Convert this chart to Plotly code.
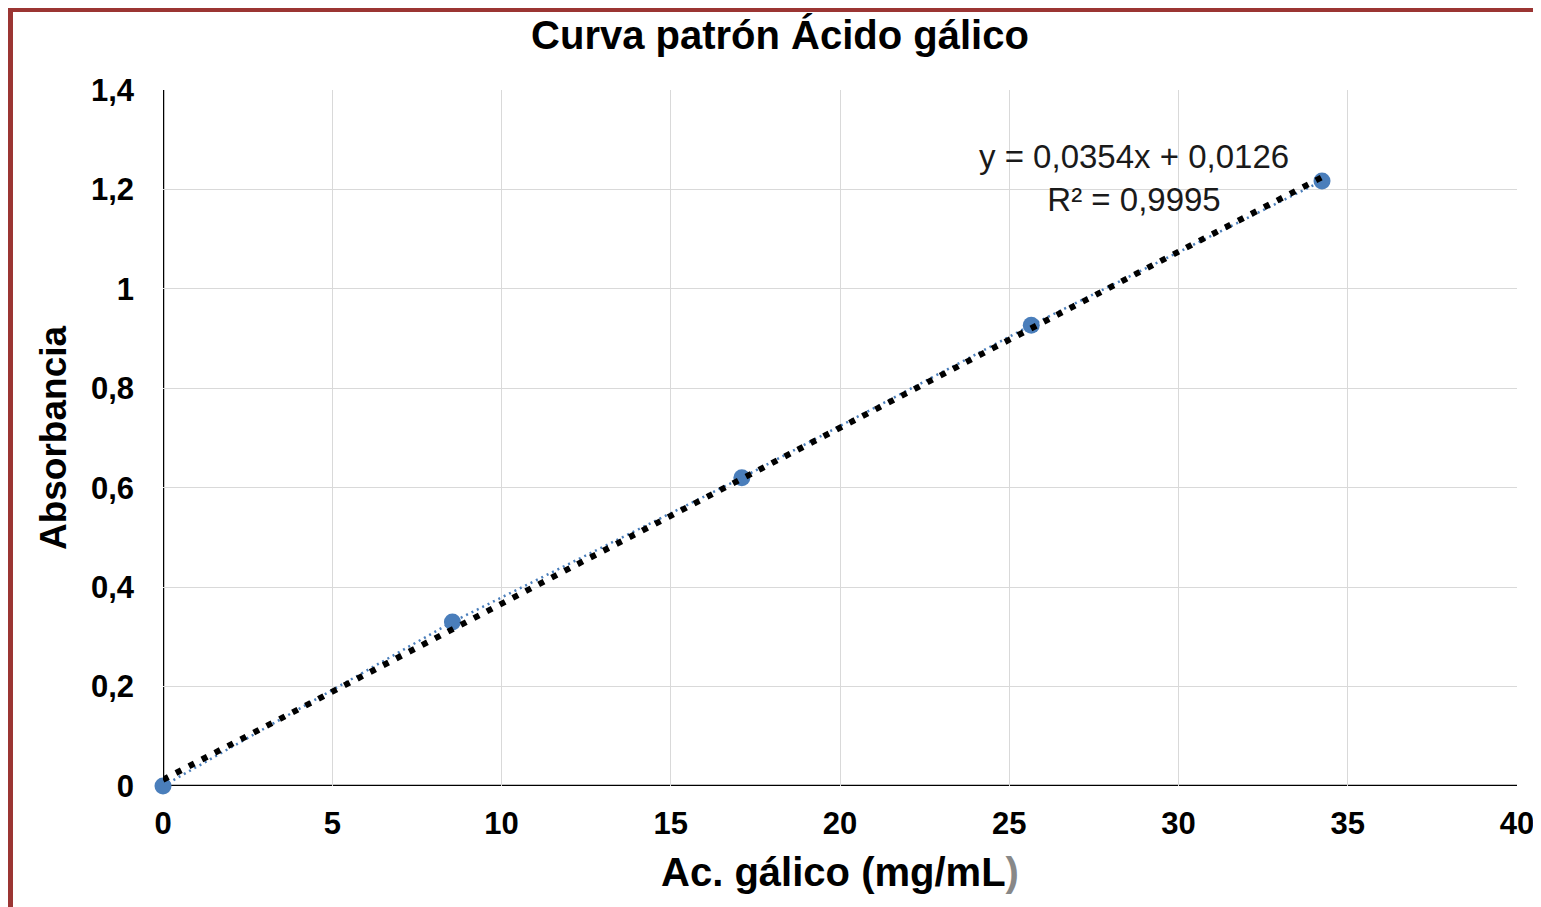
import plotly.graph_objects as go

# Data
conc = [0, 8.55, 17.1, 25.65, 34.24]
absorb = [0.0, 0.330, 0.620, 0.927, 1.217]
slope = 0.0354
intercept = 0.0126
x_ticks = [0, 5, 10, 15, 20, 25, 30, 35, 40]
y_ticks = [0, 0.2, 0.4, 0.6, 0.8, 1.0, 1.2, 1.4]
y_tick_text = ["0", "0,2", "0,4", "0,6", "0,8", "1", "1,2", "1,4"]

trend_x = [0, max(conc)]
trend_y = [slope * v + intercept for v in trend_x]

FONT = "Liberation Sans, Arial, sans-serif"
BLUE = "#4A7EBB"
OFF = 8  # page body margin offset

W, H = 1541 - OFF, 907 - OFF
L, R_EDGE, T, B_EDGE = 163 - OFF, 1517 - OFF, 90 - OFF, 786 - OFF
PW, PH = R_EDGE - L, B_EDGE - T


def px_x(p):
    return (p - OFF - L) / PW


def px_y(p):
    return (B_EDGE - (p - OFF)) / PH


fig = go.Figure()

fig.add_trace(go.Scatter(
    x=conc, y=absorb, mode="lines",
    line=dict(color=BLUE, width=2.5, dash="2px,4px"),
    hoverinfo="skip", showlegend=False, cliponaxis=False,
))
fig.add_trace(go.Scatter(
    x=conc, y=absorb, mode="markers",
    marker=dict(color=BLUE, size=17),
    showlegend=False, cliponaxis=False,
))
fig.add_trace(go.Scatter(
    x=trend_x, y=trend_y, mode="lines",
    line=dict(color="black", width=6, dash="6px,8.6px"),
    showlegend=False, cliponaxis=False,
))

fig.update_layout(
    width=W, height=H,
    margin=dict(l=L, r=W - R_EDGE, t=T, b=H - B_EDGE, autoexpand=False),
    paper_bgcolor="white", plot_bgcolor="white",
    font=dict(family=FONT, color="black"),
    title=dict(
        text="<b>Curva patrón Ácido gálico</b>",
        x=px_x(780), xref="paper", xanchor="center",
        y=1 - (35 - OFF) / H, yref="container", yanchor="middle",
        font=dict(size=40, family=FONT, color="black"),
    ),
    xaxis=dict(
        range=[0, 40], tickvals=x_ticks, ticks="",
        showgrid=True, gridcolor="#D9D9D9", gridwidth=1.3,
        zeroline=False, showline=False,
        tickfont=dict(size=31, family=FONT, color="black", weight="bold"),
        ticklabelstandoff=16,
        title=dict(
            text="<b>Ac. gálico (mg/mL<span style='color:#888888'>)</span></b>",
            font=dict(size=40, family=FONT, color="black"), standoff=17,
        ),
        fixedrange=True,
    ),
    yaxis=dict(
        range=[0, 1.4], tickvals=y_ticks, ticktext=y_tick_text, ticks="",
        showgrid=True, gridcolor="#D9D9D9", gridwidth=1.3,
        zeroline=False, showline=False,
        tickfont=dict(size=31, family=FONT, color="black", weight="bold"),
        ticklabelstandoff=28,
        title=dict(
            text="<b>Absorbancia</b>",
            font=dict(size=37, family=FONT, color="black"), standoff=12,
        ),
        fixedrange=True,
    ),
)

# black axis lines at x=0 and y=0
fig.add_shape(type="line", xref="x", yref="y", x0=0, x1=40, y0=0, y1=0,
              line=dict(color="black", width=2.5), layer="below")
fig.add_shape(type="line", xref="x", yref="y", x0=0, x1=0, y0=0, y1=1.4,
              line=dict(color="black", width=2.5), layer="below")

# red frame (left and top)
fig.add_shape(type="line", xref="paper", yref="paper",
              x0=px_x(10.5), x1=px_x(10.5),
              y0=px_y(912), y1=px_y(7),
              line=dict(color="#9B3533", width=5))
fig.add_shape(type="line", xref="paper", yref="paper",
              x0=px_x(8), x1=px_x(1545),
              y0=px_y(9.5), y1=px_y(9.5),
              line=dict(color="#9B3533", width=5))

fig.add_annotation(
    x=px_x(1134) * 40, y=px_y(178) * 1.4,
    xref="x", yref="y",
    text="y = 0,0354x + 0,0126<br>R² = 0,9995",
    showarrow=False, align="center",
    font=dict(size=33, family=FONT, color="#1a1a1a"),
)

fig.write_html("out.html")
